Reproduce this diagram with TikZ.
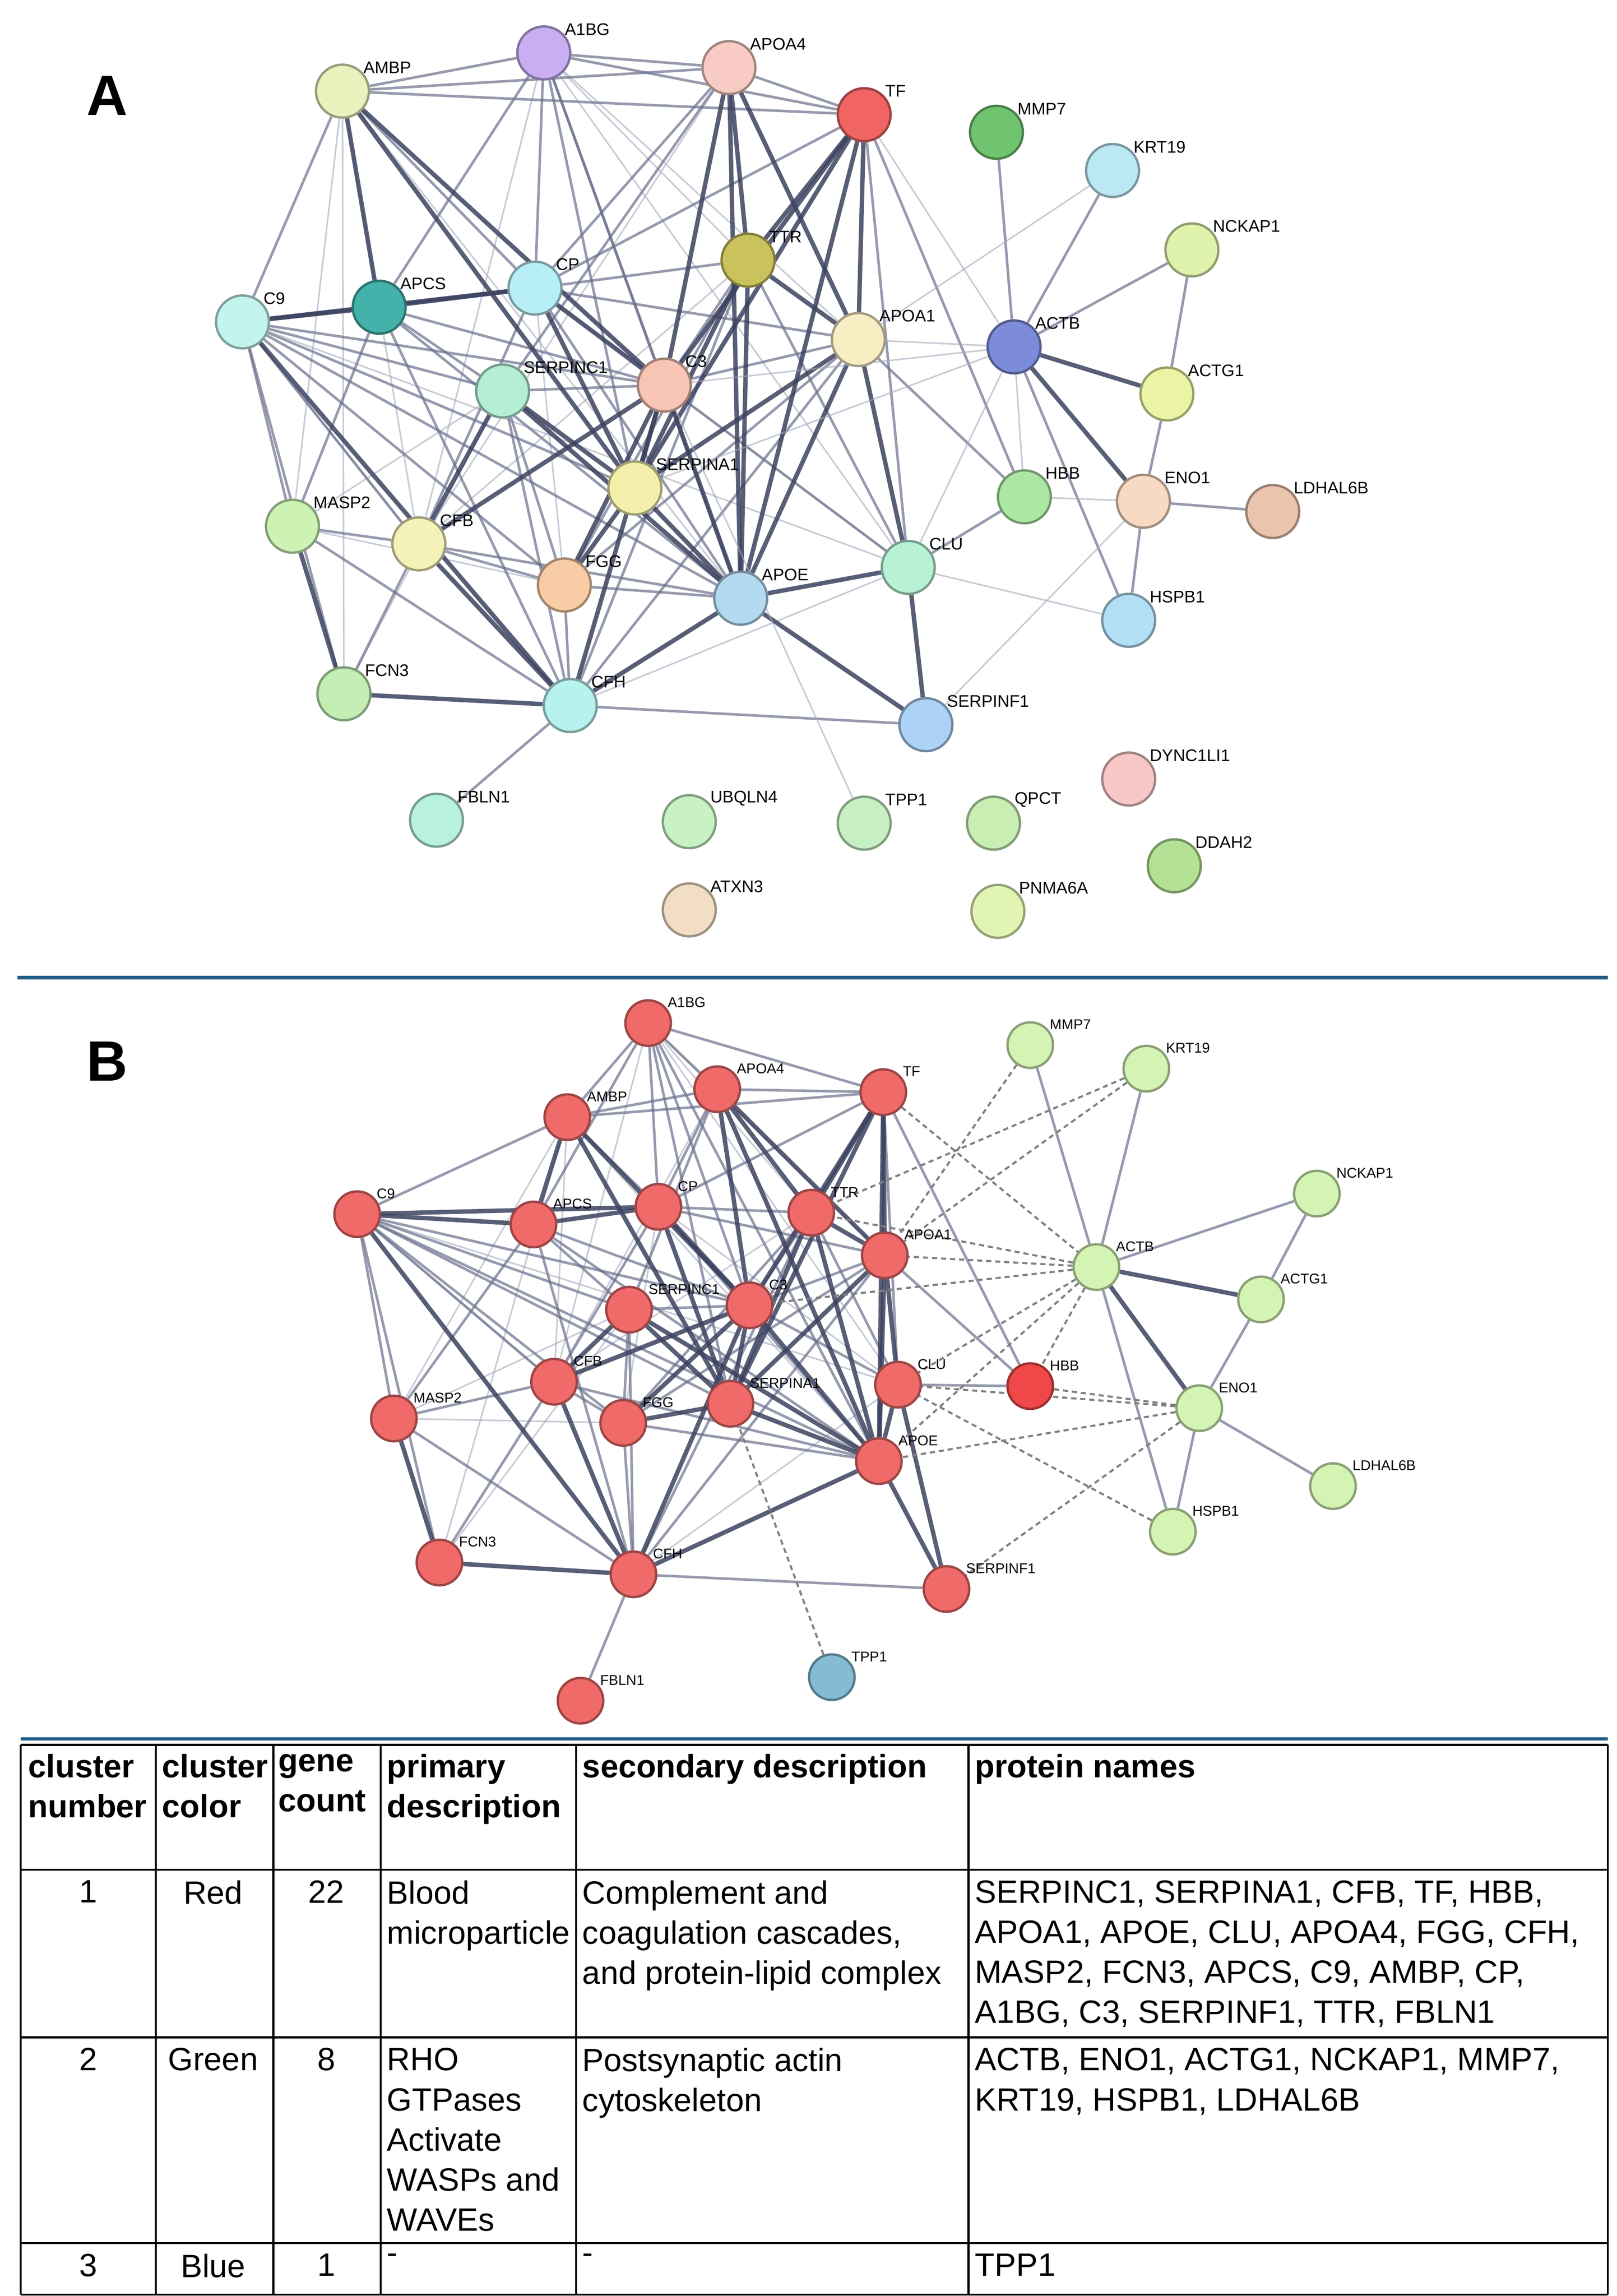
\documentclass[tikz,border=0pt]{standalone}
\usepackage{fontspec}
\setmainfont{Liberation Sans}
\usetikzlibrary{calc,backgrounds}
\definecolor{sepblue}{HTML}{1F5C85}
\definecolor{edT}{HTML}{3C4260}
\definecolor{edM}{HTML}{6A708C}
\definecolor{edL}{HTML}{A4A8BC}
\tikzset{
 prot/.style={circle,minimum size=0.72cm,inner sep=0pt,line width=0.9pt},
 protb/.style={circle,minimum size=0.62cm,inner sep=0pt,line width=0.9pt},
 lab/.style={font=\fontsize{6.5}{7}\selectfont,anchor=west,inner sep=0pt},
 labb/.style={font=\fontsize{5.5}{6}\selectfont,anchor=west,inner sep=0pt},
 eT/.style={line width=1.7pt,draw=edT,opacity=.85},
 eM/.style={line width=1.0pt,draw=edM,opacity=.7},
 eL/.style={line width=0.6pt,draw=edL,opacity=.6},
 eD/.style={line width=0.8pt,draw=gray,dash pattern=on 2pt off 1.5pt},
 cell/.style={font=\fontsize{12.5}{15.5}\selectfont,inner sep=0pt,align=left,anchor=north west},
 cellc/.style={font=\fontsize{12.5}{15.5}\selectfont,inner sep=0pt,align=center,anchor=north},
 hcell/.style={cell,font=\fontsize{12.5}{15.5}\selectfont\bfseries},
}
\newcommand\pa[5]{\definecolor{col#1}{HTML}{#4}%
 \node[prot,fill=col#1,draw=col#1!65!black] (a#1) at (#2,#3) {};
 \node[lab] at ($(a#1)+(14,-16)$) {#5};}
\newcommand\pb[5]{\definecolor{colb#1}{HTML}{#4}%
 \node[protb,fill=colb#1,draw=colb#1!65!black] (b#1) at (#2,#3) {};
 \node[labb] at ($(b#1)+(13,-14)$) {#5};}
\def\EdT{TTR/APOA4,TTR/TF,TTR/APOA1,TTR/SERPINA1,TTR/APOE,APOA4/APOA1,APOA4/C3,APOA4/APOE,TF/APOA1,TF/C3,TF/SERPINA1,TF/APOE,APCS/CP,CP/C3,CP/SERPINA1,C3/SERPINA1,C3/APOE,C3/CFB,C3/FGG,C3/CFH,SERPINA1/APOE,SERPINA1/FGG,SERPINA1/SERPINC1,SERPINC1/APOE,SERPINC1/CFB,APOE/CLU,APOE/APOA1,APOA1/CLU,APOE/CFH,CFH/CFB,CFH/C9,MASP2/FCN3,C9/APCS,C9/CP,AMBP/APCS,AMBP/C3,AMBP/SERPINA1,APOE/SERPINF1,CLU/SERPINF1,CFH/FCN3,APOA1/SERPINA1}
\def\EdM{AMBP/A1BG,AMBP/C9,AMBP/CP,AMBP/TF,AMBP/APOA4,A1BG/APOA4,A1BG/TF,A1BG/CP,A1BG/C3,A1BG/SERPINA1,A1BG/APOE,A1BG/APCS,APOA4/TF,APOA4/CP,APOA4/SERPINC1,TF/CP,TF/CLU,C9/C3,C9/SERPINC1,C9/SERPINA1,C9/APOE,C9/CFB,C9/FGG,C9/MASP2,APCS/SERPINC1,APCS/C3,APCS/APOE,APCS/CFH,CP/APOE,CP/TTR,CP/APOA1,CP/CFB,SERPINC1/FGG,SERPINC1/C3,SERPINC1/CFH,MASP2/CFB,MASP2/CFH,MASP2/APCS,CFB/FGG,CFB/APOE,FGG/APOE,FGG/CFH,FGG/APOA1,FGG/TTR,CFH/SERPINF1,CFH/APOA1,APOA1/C3,C3/CLU,TTR/C3,TTR/CLU,CFH/TTR,FCN3/CFB,FCN3/C9,APOA1/HBB,TF/HBB,CFH/FBLN1}
\def\EdL{AMBP/MASP2,AMBP/FCN3,A1BG/TTR,A1BG/CFB,A1BG/APOA1,MASP2/SERPINC1,C9/CLU,APOA4/CFB,AMBP/CFB,C9/CFB,CP/FGG,AMBP/APOE,TTR/CFB,A1BG/CLU,CP/CLU,MASP2/FGG,FCN3/SERPINC1,CFH/CLU}
\begin{document}
\begin{tikzpicture}[x=0.02cm,y=-0.02cm]
\useasboundingbox (0,0) rectangle (1100,1562);
% ---------------- Panel A
\node[font=\fontsize{22}{22}\selectfont\bfseries] (lA) at (73,65) {A};
\pa{AMBP}{233}{62}{E8F2BC}{AMBP}
\pa{A1BG}{370}{36}{C8AEF2}{A1BG}
\pa{APOA4}{496}{46}{F8CCC4}{APOA4}
\pa{TF}{588}{78}{F06464}{TF}
\pa{MMP7}{678}{90}{70C470}{MMP7}
\pa{KRT19}{757}{116}{BCE8F4}{KRT19}
\pa{NCKAP1}{811}{170}{DEF2AC}{NCKAP1}
\pa{C9}{165}{219}{C4F4EE}{C9}
\pa{APCS}{258}{209}{44B2AA}{APCS}
\pa{CP}{364}{196}{B8EEF6}{CP}
\pa{TTR}{509}{177}{CAC25C}{TTR}
\pa{APOA1}{584}{231}{F8EEC4}{APOA1}
\pa{ACTB}{690}{236}{7C8CDA}{ACTB}
\pa{ACTG1}{794}{268}{EAF4A4}{ACTG1}
\pa{SERPINC1}{342}{266}{B4EED4}{SERPINC1}
\pa{C3}{452}{262}{F8C4B4}{C3}
\pa{SERPINA1}{432}{332}{F4F0AC}{SERPINA1}
\pa{HBB}{697}{338}{ACE8A4}{HBB}
\pa{ENO1}{778}{341}{F8DAC4}{ENO1}
\pa{LDHAL6B}{866}{348}{EAC4AC}{LDHAL6B}
\pa{MASP2}{199}{358}{CCF2B4}{MASP2}
\pa{CFB}{285}{370}{F4F2B8}{CFB}
\pa{FGG}{384}{398}{F8CCA4}{FGG}
\pa{APOE}{504}{407}{B4DAF2}{APOE}
\pa{CLU}{618}{386}{B8F2D4}{CLU}
\pa{HSPB1}{768}{422}{B4E0F6}{HSPB1}
\pa{FCN3}{234}{472}{C4EEB4}{FCN3}
\pa{CFH}{388}{480}{B8F2EE}{CFH}
\pa{SERPINF1}{630}{493}{ACD2F6}{SERPINF1}
\pa{DYNC1LI1}{768}{530}{F8C8C8}{DYNC1LI1}
\pa{FBLN1}{297}{558}{B8F2DC}{FBLN1}
\pa{UBQLN4}{469}{559}{C8F2C4}{UBQLN4}
\pa{TPP1}{588}{560}{C8EEC4}{TPP1}
\pa{QPCT}{676}{560}{C8EEB4}{QPCT}
\pa{DDAH2}{799}{589}{B4E294}{DDAH2}
\pa{ATXN3}{469}{619}{F2DEC4}{ATXN3}
\pa{PNMA6A}{679}{620}{E2F4B4}{PNMA6A}
% ---------------- separator
\draw[line width=1.4pt,draw=sepblue] (12,665) coordinate (s1) -- (1094,665) coordinate (s2);
% ---------------- Panel B
\node[font=\fontsize{22}{22}\selectfont\bfseries] (lB) at (73,722) {B};
\pb{A1BG}{441}{696}{F06A6A}{A1BG}
\pb{APOA4}{488}{741}{F06A6A}{APOA4}
\pb{TF}{601}{743}{F06A6A}{TF}
\pb{MMP7}{701}{711}{D4F4B4}{MMP7}
\pb{KRT19}{780}{727}{D4F4B4}{KRT19}
\pb{AMBP}{386}{760}{F06A6A}{AMBP}
\pb{C9}{243}{826}{F06A6A}{C9}
\pb{APCS}{363}{833}{F06A6A}{APCS}
\pb{CP}{448}{821}{F06A6A}{CP}
\pb{TTR}{552}{825}{F06A6A}{TTR}
\pb{APOA1}{602}{854}{F06A6A}{APOA1}
\pb{ACTB}{746}{862}{D4F4B4}{ACTB}
\pb{NCKAP1}{896}{812}{D4F4B4}{NCKAP1}
\pb{ACTG1}{858}{884}{D4F4B4}{ACTG1}
\pb{SERPINC1}{428}{891}{F06A6A}{SERPINC1}
\pb{C3}{510}{888}{F06A6A}{C3}
\pb{CFB}{377}{940}{F06A6A}{CFB}
\pb{MASP2}{268}{965}{F06A6A}{MASP2}
\pb{FGG}{424}{968}{F06A6A}{FGG}
\pb{SERPINA1}{497}{955}{F06A6A}{SERPINA1}
\pb{CLU}{611}{942}{F06A6A}{CLU}
\pb{HBB}{701}{943}{F04848}{HBB}
\pb{APOE}{598}{994}{F06A6A}{APOE}
\pb{ENO1}{816}{958}{D4F4B4}{ENO1}
\pb{LDHAL6B}{907}{1011}{D4F4B4}{LDHAL6B}
\pb{HSPB1}{798}{1042}{D4F4B4}{HSPB1}
\pb{FCN3}{299}{1063}{F06A6A}{FCN3}
\pb{CFH}{431}{1071}{F06A6A}{CFH}
\pb{SERPINF1}{644}{1081}{F06A6A}{SERPINF1}
\pb{FBLN1}{395}{1157}{F06A6A}{FBLN1}
\pb{TPP1}{566}{1141}{84BCD4}{TPP1}
% ---------------- edges
\begin{pgfonlayer}{background}
\fill[white] (0,0) rectangle (1100,1562);
\foreach \u/\v in \EdL {\draw[eL] (a\u)--(a\v); \draw[eL] (b\u)--(b\v);}
\foreach \u/\v in \EdM {\draw[eM] (a\u)--(a\v); \draw[eM] (b\u)--(b\v);}
\foreach \u/\v in \EdT {\draw[eT] (a\u)--(a\v); \draw[eT] (b\u)--(b\v);}
\foreach \u/\v in {MMP7/ACTB,KRT19/ACTB,NCKAP1/ACTB,NCKAP1/ACTG1,ACTB/HSPB1,ENO1/LDHAL6B,ENO1/HSPB1,ENO1/ACTG1,HBB/CLU}
 {\draw[eM] (a\u)--(a\v); \draw[eM] (b\u)--(b\v);}
\foreach \u/\v in {ACTB/ACTG1,ACTB/ENO1} {\draw[eT] (a\u)--(a\v); \draw[eT] (b\u)--(b\v);}
\foreach \u/\v in {KRT19/APOA1,TF/ACTB,ACTB/C3,ACTB/CLU,ACTB/HBB,ACTB/APOA1,ENO1/HBB,ENO1/SERPINF1,HSPB1/CLU,TPP1/C3,ACTB/SERPINA1}
 {\draw[eL] (a\u)--(a\v);}
\foreach \u/\v in {MMP7/APOA1,KRT19/APOA1,KRT19/TTR,ACTB/APOA1,ACTB/TTR,ACTB/CLU,ACTB/HBB,ACTB/APOE,ACTB/C3,TF/ACTB,ENO1/CLU,ENO1/APOE,ENO1/SERPINF1,ENO1/HBB,HSPB1/CLU,TPP1/SERPINA1}
 {\draw[eD] (b\u)--(b\v);}
\end{pgfonlayer}
% ---------------- table
\draw[line width=1.2pt,draw=sepblue] (14,1183) -- (1094,1183);
\draw[line width=0.8pt] (14,1187) -- (1094,1187);
\foreach \yy in {1272,1386,1526,1561} \draw[line width=0.8pt] (14,\yy) -- (1094,\yy);
\foreach \xx in {14,106,186,259,392,659,1094} \draw[line width=0.8pt] (\xx,1187) -- (\xx,1561);
\node[hcell] (h1) at (19,1193) {cluster\\number};
\node[hcell] (h2) at (110,1193) {cluster\\color};
\node[hcell] (h3) at (189,1193) {gene\\count};
\node[hcell] (h4) at (263,1193) {primary\\description};
\node[hcell] (h5) at (396,1193) {secondary description};
\node[hcell] (h6) at (663,1193) {protein names};
\node[cellc] (r11) at (60,1279) {1};
\node[cellc] (r12) at (145,1279) {Red};
\node[cellc] (r13) at (222,1279) {22};
\node[cell] (r14) at (263,1279) {Blood\\microparticle};
\node[cell] (r15) at (396,1279) {Complement and\\coagulation cascades,\\and protein-lipid complex};
\node[cell] (r16) at (663,1279) {SERPINC1, SERPINA1, CFB, TF, HBB,\\APOA1, APOE, CLU, APOA4, FGG, CFH,\\MASP2, FCN3, APCS, C9, AMBP, CP,\\A1BG, C3, SERPINF1, TTR, FBLN1};
\node[cellc] (r21) at (60,1393) {2};
\node[cellc] (r22) at (145,1393) {Green};
\node[cellc] (r23) at (222,1393) {8};
\node[cell] (r24) at (263,1393) {RHO\\GTPases\\Activate\\WASPs and\\WAVEs};
\node[cell] (r25) at (396,1393) {Postsynaptic actin\\cytoskeleton};
\node[cell] (r26) at (663,1393) {ACTB, ENO1, ACTG1, NCKAP1, MMP7,\\KRT19, HSPB1, LDHAL6B};
\node[cellc] (r31) at (60,1533) {3};
\node[cellc] (r32) at (145,1533) {Blue};
\node[cellc] (r33) at (222,1533) {1};
\node[cell] (r34) at (263,1533) {-};
\node[cell] (r35) at (396,1533) {-};
\node[cell] (r36) at (663,1533) {TPP1};
\end{tikzpicture}
\end{document}
